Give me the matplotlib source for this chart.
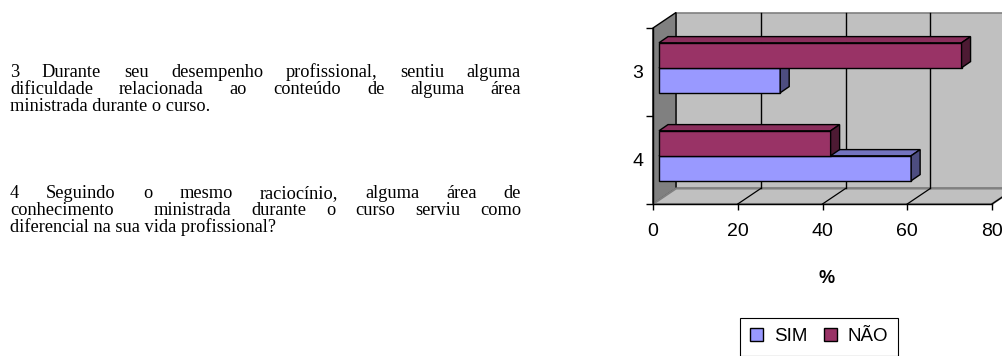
import matplotlib
matplotlib.use('Agg')
import matplotlib.pyplot as plt
from matplotlib.patches import Polygon
from matplotlib.font_manager import FontProperties

# ---------------- data ----------------
categories = ['3', '4']
sim_values = [28.6, 59.5]
nao_values = [71.4, 40.5]
series_labels = ['SIM', 'NÃO']
x_ticks = [0, 20, 40, 60, 80]
x_label = '%'

para3 = ["3 Durante seu desempenho profissional, sentiu alguma",
         "dificuldade relacionada ao conteúdo de alguma área",
         "ministrada durante o curso."]
para4 = ["4 Seguindo o mesmo raciocínio, alguma área de",
         "conhecimento  ministrada durante o curso serviu como",
         "diferencial na sua vida profissional?"]

# ---------------- figure ----------------
W, H, DPI = 1002, 356, 100
fig = plt.figure(figsize=(W / DPI, H / DPI), dpi=DPI)
fig.patch.set_facecolor('white')

AX_L, AX_R, AX_T, AX_B = 653, 992, 28, 204
ax = fig.add_axes([AX_L / W, 1 - AX_B / H, (AX_R - AX_L) / W, (AX_B - AX_T) / H])
ax.set_xlim(0, 80)
ax.set_ylim(0, 2)
ax.patch.set_visible(False)

sx = (AX_R - AX_L) / 80.0
sy = (AX_B - AX_T) / 2.0


def off(px, py):
    return px / sx, py / sy


DX, DY = off(23, 15.5)      # wall depth
BFX, BFY = off(6, 4.2)      # bar front plane
BBX, BBY = off(15, 10.4)    # bar back plane
BAR_H = 25 / sy

# walls
ax.add_patch(Polygon([(DX, DY), (80 + DX, DY), (80 + DX, 2 + DY), (DX, 2 + DY)],
                     closed=True, fc='#c0c0c0', ec='#808080', lw=1.2, clip_on=False, zorder=0))
ax.add_patch(Polygon([(0, 0), (DX, DY), (DX, 2 + DY), (0, 2)],
                     closed=True, fc='#808080', ec='black', lw=1, clip_on=False, zorder=1))
ax.add_patch(Polygon([(0, 0), (80, 0), (80 + DX, DY), (DX, DY)],
                     closed=True, fc='#c0c0c0', ec='#808080', lw=1.5, clip_on=False, zorder=1))
for v in x_ticks[1:-1]:
    ax.plot([v + DX, v + DX], [DY, 2 + DY], color='black', lw=1, clip_on=False, zorder=1.5)
for v in x_ticks[1:]:
    ax.plot([v, v + DX], [0, DY], color='black', lw=0.9, clip_on=False, zorder=1.5)

# bars
ypos = [1.5, 0.5]
sim_front, sim_top, sim_side = '#9999ff', '#7373bf', '#4d4d80'
nao_front, nao_top, nao_side = '#993366', '#8a2e5c', '#4d1a33'


def faces(left, width, y0, h, top_c, side_c, z):
    x1 = left + width
    ddx, ddy = BBX - BFX, BBY - BFY
    ax.add_patch(Polygon([(left, y0 + h), (x1, y0 + h), (x1 + ddx, y0 + h + ddy),
                          (left + ddx, y0 + h + ddy)], closed=True, fc=top_c, ec='black',
                         lw=1, clip_on=False, zorder=z))
    ax.add_patch(Polygon([(x1, y0), (x1 + ddx, y0 + ddy), (x1 + ddx, y0 + h + ddy),
                          (x1, y0 + h)], closed=True, fc=side_c, ec='black',
                         lw=1, clip_on=False, zorder=z))


sim_y = [y + BFY - BAR_H / 2 for y in ypos]
nao_y = [y + BFY + BAR_H / 2 for y in ypos]
b_sim = ax.barh(sim_y, sim_values, left=BFX, height=BAR_H, color=sim_front,
                edgecolor='black', lw=1, zorder=3, label=series_labels[0], clip_on=False)
for yy, v in zip(sim_y, sim_values):
    faces(BFX, v, yy - BAR_H / 2, BAR_H, sim_top, sim_side, 3)
b_nao = ax.barh(nao_y, nao_values, left=BFX, height=BAR_H, color=nao_front,
                edgecolor='black', lw=1, zorder=4, label=series_labels[1], clip_on=False)
for yy, v in zip(nao_y, nao_values):
    faces(BFX, v, yy - BAR_H / 2, BAR_H, nao_top, nao_side, 4)

# axes decoration
for s in ['top', 'right']:
    ax.spines[s].set_visible(False)
for s in ['left', 'bottom']:
    ax.spines[s].set_color('black')
    ax.spines[s].set_linewidth(1)
    ax.spines[s].set_zorder(5)

sans = 'Liberation Sans'
ax.set_xticks(x_ticks)
ax.set_xticklabels([str(t) for t in x_ticks], fontsize=14, family=sans)
ax.tick_params(axis='x', direction='out', length=4, width=1, pad=10, colors='black')
ax.set_yticks([0, 1, 2])
ax.set_yticklabels([])
ax.tick_params(axis='y', which='major', direction='out', length=5, width=1)
ax.set_yticks(ypos, minor=True)
ax.set_yticklabels(categories, minor=True, fontsize=14, family=sans)
ax.tick_params(axis='y', which='minor', length=0, pad=7)

ax.set_xlabel(x_label, fontsize=13, fontweight='bold', family=sans)
ax.xaxis.set_label_coords((827 - AX_L) / (AX_R - AX_L), (AX_B - 279) / (AX_B - AX_T))
ax.xaxis.label.set_va('center')

leg = fig.legend([b_sim, b_nao], series_labels, loc='upper center',
                 bbox_to_anchor=(819 / W, 1 - 318 / H), bbox_transform=fig.transFigure,
                 borderaxespad=0, ncol=2, frameon=True,
                 fancybox=False, edgecolor='black', framealpha=1,
                 handlelength=0.7, handleheight=0.7, handletextpad=0.55,
                 columnspacing=0.9, borderpad=0.55,
                 prop=FontProperties(family=sans, size=13.5))
leg.get_frame().set_linewidth(0.8)

# ---------------- justified text ----------------
serif = FontProperties(family='Liberation Serif', size=13.2)
renderer = fig.canvas.get_renderer()
X0, X1 = 10, 521


def wwidth(s):
    if s == '':
        return 0.0
    w, h, d = renderer.get_text_width_height_descent(s, serif, ismath=False)
    return w


def draw_line(text, base_px, justify):
    if not justify:
        fig.text(X0 / W, 1 - base_px / H, text, fontproperties=serif,
                 ha='left', va='baseline', color='black')
        return
    words = text.split(' ')
    widths = [wwidth(w) for w in words]
    gap = (X1 - X0 - sum(widths)) / (len(words) - 1)
    x = X0
    for w, wd in zip(words, widths):
        if w:
            fig.text(x / W, 1 - base_px / H, w, fontproperties=serif,
                     ha='left', va='baseline', color='black')
        x += wd + gap


for i, (line, b) in enumerate(zip(para3, [77, 94, 111])):
    draw_line(line, b, i < 2)
for i, (line, b) in enumerate(zip(para4, [198, 215, 232])):
    draw_line(line, b, i < 2)

fig.savefig('out.png', dpi=DPI)
